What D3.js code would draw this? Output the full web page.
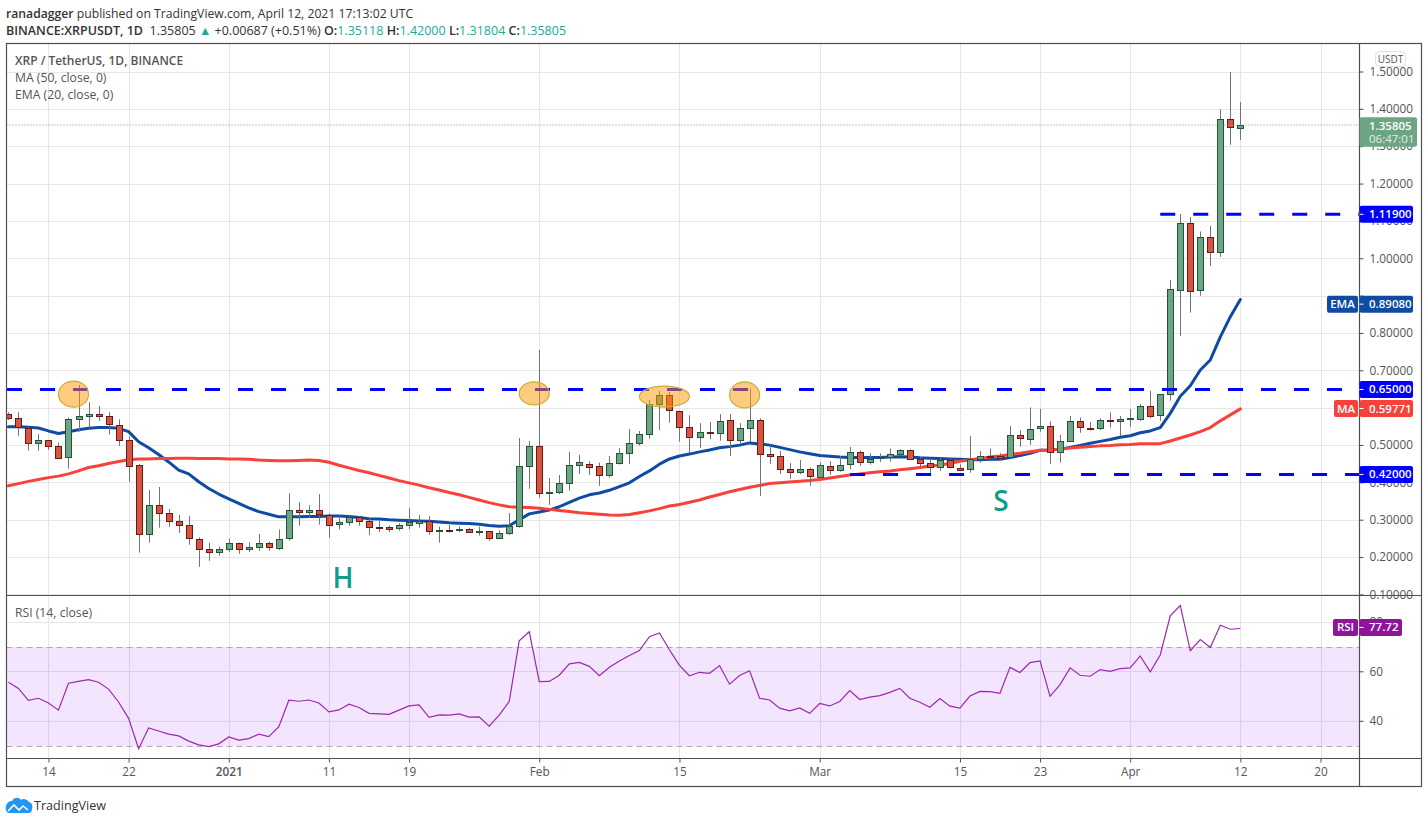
<!DOCTYPE html>
<html><head><meta charset="utf-8">
<script src="https://cdn.jsdelivr.net/npm/d3@7"></script>
<style>
html,body{margin:0;padding:0;background:#fff}
svg{display:block}
text{font-family:"Open Sans",sans-serif}
</style></head><body>
<svg id="c" width="1428" height="823"></svg>
<script>
// one candle per day, first candle = 2020-12-10
const startDate = "2020-12-10";
const opens = [.583,.573,.548,.507,.514,.498,.468,.570,.577,.583,.578,.556,.516,.447,.262,.340,.318,.297,.286,.249,.222,.214,.222,.238,.221,.227,.238,.227,.251,.326,.320,.326,.315,.289,.294,.308,.297,.281,.282,.277,.286,.293,.297,.269,.273,.272,.276,.269,.270,.251,.265,.284,.444,.498,.372,.375,.399,.447,.451,.444,.420,.452,.479,.506,.530,.610,.634,.593,.550,.522,.535,.532,.567,.514,.546,.567,.476,.471,.436,.428,.436,.416,.446,.436,.449,.482,.455,.466,.468,.476,.487,.463,.452,.441,.460,.441,.436,.463,.471,.471,.468,.527,.518,.545,.551,.482,.511,.565,.548,.545,.567,.564,.570,.573,.607,.580,.636,.918,1.097,.915,1.057,1.016,1.373,1.351];
const closes = [.572,.550,.508,.514,.498,.467,.570,.578,.583,.577,.556,.516,.447,.262,.340,.318,.296,.286,.251,.222,.214,.222,.238,.222,.227,.238,.227,.251,.326,.320,.326,.315,.289,.294,.308,.297,.281,.280,.277,.286,.294,.298,.270,.273,.272,.276,.269,.271,.251,.265,.284,.444,.498,.372,.375,.399,.447,.455,.443,.420,.452,.479,.506,.530,.610,.634,.593,.550,.522,.535,.532,.565,.514,.546,.567,.476,.470,.436,.428,.436,.416,.447,.436,.449,.482,.455,.463,.468,.476,.487,.463,.452,.441,.460,.441,.436,.463,.471,.470,.465,.527,.518,.545,.551,.482,.511,.565,.548,.545,.567,.564,.570,.573,.607,.580,.637,.918,1.097,.915,1.057,1.016,1.373,1.351,1.358];
const highs = [.589,.589,.550,.531,.514,.508,.575,.662,.616,.606,.589,.570,.525,.450,.381,.389,.330,.314,.311,.254,.240,.230,.251,.240,.241,.263,.243,.275,.372,.348,.340,.370,.318,.312,.312,.311,.305,.298,.286,.292,.333,.314,.311,.283,.287,.283,.280,.283,.272,.273,.319,.520,.512,.756,.413,.421,.483,.475,.458,.454,.472,.493,.544,.539,.622,.646,.643,.593,.581,.560,.563,.584,.584,.560,.653,.573,.501,.485,.453,.461,.441,.455,.458,.472,.496,.487,.479,.479,.492,.490,.490,.468,.465,.467,.465,.450,.525,.485,.492,.479,.552,.541,.602,.598,.565,.528,.579,.575,.563,.573,.589,.579,.598,.611,.646,.637,.943,1.120,1.111,1.073,1.088,1.400,1.500,1.420];
const lows = [.568,.526,.486,.486,.488,.464,.438,.537,.548,.566,.529,.499,.403,.213,.240,.280,.282,.266,.234,.175,.191,.205,.215,.210,.215,.218,.218,.220,.245,.285,.306,.288,.253,.276,.285,.285,.260,.268,.268,.272,.276,.280,.261,.240,.267,.268,.267,.259,.245,.249,.261,.280,.384,.360,.341,.370,.379,.424,.421,.392,.414,.449,.450,.500,.518,.541,.561,.510,.479,.493,.517,.513,.472,.506,.509,.365,.450,.424,.411,.423,.392,.415,.422,.430,.436,.446,.449,.456,.457,.473,.463,.441,.425,.432,.439,.433,.427,.454,.468,.459,.465,.497,.502,.537,.451,.454,.510,.534,.540,.541,.548,.525,.550,.566,.574,.566,.620,.793,.856,.901,.981,1.005,1.305,1.318];
const emaValues = [.550,.550,.549,.547,.539,.532,.537,.542,.546,.548,.548,.546,.537,.510,.494,.476,.456,.434,.424,.403,.385,.370,.357,.345,.333,.323,.316,.309,.309,.309,.310,.310,.311,.311,.310,.307,.304,.303,.301,.300,.299,.298,.297,.295,.293,.292,.291,.289,.286,.284,.285,.301,.317,.322,.327,.336,.348,.359,.368,.373,.380,.390,.400,.417,.432,.450,.464,.472,.477,.483,.488,.494,.497,.501,.507,.504,.501,.495,.489,.483,.478,.473,.471,.469,.468,.468,.468,.468,.469,.470,.469,.467,.466,.465,.464,.463,.462,.462,.463,.463,.468,.473,.479,.487,.488,.490,.495,.500,.506,.511,.516,.522,.526,.534,.539,.548,.586,.632,.660,.702,.729,.791,.845,.891];
const maValues = [.392,.398,.404,.409,.414,.418,.424,.432,.441,.446,.452,.457,.462,.464,.464,.465,.465,.466,.466,.465,.465,.465,.464,.464,.463,.461,.460,.459,.459,.460,.461,.460,.455,.447,.440,.433,.427,.420,.413,.406,.400,.394,.387,.381,.374,.368,.361,.354,.347,.341,.336,.335,.334,.332,.329,.326,.323,.320,.318,.316,.314,.313,.315,.320,.325,.331,.338,.342,.348,.354,.362,.369,.376,.382,.388,.393,.398,.400,.402,.404,.406,.409,.413,.417,.421,.424,.427,.430,.432,.435,.438,.441,.445,.448,.452,.458,.462,.465,.469,.472,.476,.479,.483,.487,.488,.490,.493,.495,.497,.499,.500,.502,.503,.505,.505,.505,.512,.520,.528,.537,.548,.566,.582,.598];
const rsiValues = [55.8,53.3,48.5,49.3,47.4,44.5,55.4,56.1,56.8,55.8,53,47.8,41.2,28.9,37.3,36.1,34.8,34.1,32,30.5,29.8,30.9,33.7,32.4,33,34.8,33.8,37.8,48.5,48.1,48.6,47.4,43.8,44.6,46.9,45.6,43.2,43,42.8,44.5,46.2,46.6,41.6,42.6,42.5,43,41.7,41.8,38,42.5,48,72.5,76.2,56,56.1,58.6,63.2,63.8,62.2,58.4,61.8,64.4,66.6,68.6,74.2,75.7,68.9,62.6,58.4,59.8,59.4,62.5,55,58.5,60.4,49.3,48.6,45.3,44.2,45.4,43.2,47.2,46.2,48,52.4,48.8,49.8,50.4,51.7,53.3,49.3,47.7,45.7,49.2,46.1,45.3,50.2,52.1,52,51.3,61.8,59.7,63.7,64.4,50.1,54.8,61.6,58.6,58.2,60.9,60.2,61.3,61.6,66.4,60,66.8,82.6,86.8,68.5,73,69.8,78.8,77.2,77.5];
const priceTicks = [1.5,1.4,1.3,1.2,1.1,1.0,0.9,0.8,0.7,0.6,0.5,0.4,0.3,0.2,0.1];
const hiddenPriceTicks = [0.9,0.6];
const rsiTicks = [80,60,40];
const rsiBand = [30,70];
const timeTickDays = [4,12,22,32,40,53,67,81,95,103,112,123,131];
const timeTickLabels = ["14","22","2021","11","19","Feb","15","Mar","15","23","Apr","12","20"];
const levelValues = [0.65,0.4225,1.119];
const levelLabels = ["0.65000","0.42000","1.11900"];
const levelStartDay = [0,84.03,115.0];
const ellipseCenterDay = [6.5,52.5,65.5,73.5];
const ellipseCenterPrice = [.6375,.6395,.631,.6355];
const ellipseDayRadius = [1.5,1.5,2.5,1.5];
const ellipsePriceRadius = [.035,.031,.028,.035];
const patternLabels = ["H","S"];
const patternDay = [33.4,99.1];
const patternPrice = [.118,.325];
const lastPrice = 1.35805;
const lastEma = 0.89080, lastMa = 0.59771, lastRsi = 77.72;

const L=6.5,R=1359.5,FR=1421.5,T=43.5,PB=595.5,RB=758.5,B=786.5;
const svg=d3.select("#c");
const x=d3.scaleLinear().domain([0,131]).range([8.4,1320.5]);
const y=d3.scaleLinear().domain([1.5,0.1]).range([72,594.9]);
const yR=d3.scaleLinear().domain([80,40]).range([622.3,721.3]);
const defs=svg.append("defs");
defs.append("clipPath").attr("id","pp").append("rect").attr("x",L).attr("y",T).attr("width",R-L).attr("height",PB-T);
defs.append("clipPath").attr("id","rp").append("rect").attr("x",L).attr("y",PB).attr("width",R-L).attr("height",RB-PB);
const GRID="#e6e6e6",AX="#4f4f4f",TXT="#555";

// grid
const grid=svg.append("g").attr("fill","none").attr("stroke",GRID).attr("stroke-width",1);
timeTickDays.forEach(d=>{const X=Math.round(x(d))+.5;grid.append("line").attr("x1",X).attr("x2",X).attr("y1",T).attr("y2",RB);});
priceTicks.forEach(v=>{const Y=Math.floor(y(v))+.5;grid.append("line").attr("x1",L).attr("x2",R).attr("y1",Y).attr("y2",Y);});

// RSI band
svg.append("rect").attr("x",L).attr("width",R-L).attr("y",yR(rsiBand[1])).attr("height",yR(rsiBand[0])-yR(rsiBand[1])).attr("fill","#9800ff").attr("fill-opacity",.1);
rsiTicks.forEach(v=>{const Y=Math.floor(yR(v))+.5;grid.append("line").attr("x1",L).attr("x2",R).attr("y1",Y).attr("y2",Y);});
svg.selectAll(".bandl").data(rsiBand).join("line").attr("x1",L).attr("x2",R).attr("y1",d=>Math.floor(yR(d))+.5).attr("y2",d=>Math.floor(yR(d))+.5).attr("stroke","#b9a3bf").attr("stroke-dasharray","6 4");
const days=d3.range(opens.length);
svg.append("path").attr("clip-path","url(#rp)").attr("fill","none").attr("stroke","#9c27b0").attr("stroke-width",1.2)
  .attr("d",d3.line().x(i=>x(i)).y(i=>yR(rsiValues[i]))(days));

// moving averages under the candles
const priceG=svg.append("g").attr("clip-path","url(#pp)");
const lineFor=a=>d3.line().x(i=>x(i)).y(i=>y(a[i]))(days);
priceG.append("path").attr("d",lineFor(emaValues)).attr("fill","none").attr("stroke","#0f4aa3").attr("stroke-width",3).attr("stroke-linejoin","round").attr("stroke-linecap","round");
priceG.append("path").attr("d",lineFor(maValues)).attr("fill","none").attr("stroke","#f8413a").attr("stroke-width",3).attr("stroke-linejoin","round").attr("stroke-linecap","round");

// last price dotted
svg.append("line").attr("x1",L).attr("x2",R).attr("y1",y(lastPrice)).attr("y2",y(lastPrice)).attr("stroke","#6ba583").attr("stroke-dasharray","1 2");

// candles
const cg=priceG.selectAll(".cd").data(days).join("g");
cg.append("line").attr("x1",i=>Math.round(x(i))+.5).attr("x2",i=>Math.round(x(i))+.5)
  .attr("y1",i=>y(highs[i])).attr("y2",i=>y(lows[i])).attr("stroke","#737375").attr("stroke-width",1);
cg.append("rect").attr("x",i=>Math.round(x(i))-2.5).attr("width",6)
  .attr("y",i=>Math.round(y(Math.max(opens[i],closes[i])))+.5)
  .attr("height",i=>Math.max(1,Math.round(Math.abs(y(opens[i])-y(closes[i])))))
  .attr("fill",i=>closes[i]>=opens[i]?"#6ba583":"#d75442")
  .attr("stroke",i=>closes[i]>=opens[i]?"#225437":"#6b1a11").attr("stroke-width",1);

// horizontal levels
levelValues.forEach((v,k)=>{
  const x0=x(levelStartDay[k]);
  svg.append("line").attr("x1",k==0?7:x0).attr("x2",R).attr("y1",y(v)).attr("y2",y(v))
    .attr("stroke","#0000ff").attr("stroke-width",3).attr("stroke-dasharray","15 18");
});

// highlighted spots
svg.selectAll(".el").data(ellipseCenterDay).join("ellipse")
  .attr("cx",d=>x(d)).attr("cy",(d,i)=>y(ellipseCenterPrice[i]))
  .attr("rx",(d,i)=>x(ellipseDayRadius[i])-x(0)).attr("ry",(d,i)=>y(0)-y(ellipsePriceRadius[i]))
  .attr("fill","#ff9800").attr("fill-opacity",.5).attr("stroke","#c9ad3c").attr("stroke-width",1.2);

// H / S
svg.selectAll(".pt").data(patternLabels).join("text").text(d=>d)
  .attr("x",(d,i)=>x(patternDay[i])).attr("y",(d,i)=>y(patternPrice[i])).attr("text-anchor","middle")
  .attr("font-size",28).attr("fill","#0e9c8d").attr("font-weight",600);

// axes
const yAxis=d3.axisRight(y).tickValues(priceTicks).tickSize(4).tickPadding(6).offset(0).tickFormat(d3.format(".5f"));
const ya=svg.append("g").attr("transform",`translate(${R},0)`).call(yAxis);
ya.selectAll(".tick text").filter(d=>hiddenPriceTicks.includes(d)).remove();
const rAxis=d3.axisRight(yR).tickValues(rsiTicks).tickSize(4).tickPadding(6).offset(0).tickFormat(d3.format("d"));
const ra=svg.append("g").attr("transform",`translate(${R},0)`).call(rAxis);
const xAxis=d3.axisBottom(x).tickValues(timeTickDays).tickSize(4).tickPadding(5).tickFormat((d,i)=>timeTickLabels[i]);
const xa=svg.append("g").attr("transform",`translate(0,${RB})`).call(xAxis);
[ya,ra,xa].forEach(g=>{g.select(".domain").remove();g.selectAll("line").attr("stroke",AX);g.selectAll("text").attr("fill",TXT).attr("font-size",11.8).attr("font-family",'"Open Sans",sans-serif');});
xa.selectAll("text").filter((d,i)=>timeTickLabels[i]=="2021").attr("font-weight",600);

// frame
const frame=svg.append("g").attr("stroke",AX).attr("fill","none").attr("stroke-width",1.2);
frame.append("rect").attr("x",L).attr("y",T).attr("width",FR-L).attr("height",B-T);
frame.append("line").attr("x1",R).attr("x2",R).attr("y1",T).attr("y2",B);
frame.append("line").attr("x1",L).attr("x2",FR).attr("y1",PB).attr("y2",PB);
frame.append("line").attr("x1",L).attr("x2",FR).attr("y1",RB).attr("y2",RB);

// USDT box
svg.append("rect").attr("x",1375.5).attr("y",51.5).attr("width",30).attr("height",15).attr("rx",4).attr("fill","#fff").attr("stroke","#dfdfdf");
svg.append("text").text("USDT").attr("x",1390.5).attr("y",63).attr("text-anchor","middle").attr("font-size",10).attr("fill",TXT);

// value tags
function tag(Y,col,txt,tw,lab,lw){
  svg.append("rect").attr("x",R).attr("y",Y-8.5).attr("width",tw).attr("height",17).attr("rx",2).attr("fill",col);
  svg.append("line").attr("x1",R).attr("x2",R+4).attr("y1",Y).attr("y2",Y).attr("stroke","#fff");
  svg.append("text").text(txt).attr("x",R+9.5).attr("y",Y+4).attr("font-size",11.5).attr("font-weight",600).attr("fill","#fff");
  if(lab){
    svg.append("rect").attr("x",R-1.5-lw).attr("y",Y-8.5).attr("width",lw).attr("height",17).attr("rx",2).attr("fill",col);
    svg.append("text").text(lab).attr("x",R-1.5-lw/2).attr("y",Y+4).attr("text-anchor","middle").attr("font-size",11.5).attr("font-weight",600).attr("fill","#fff");
  }
}
levelValues.forEach((v,k)=>tag(y(v),"#0000ff",levelLabels[k],53.5));
tag(y(lastEma)+4.6,"#0f4aa3",d3.format(".5f")(lastEma),53.5,"EMA",31);
tag(y(lastMa)-.5,"#f8413a",d3.format(".5f")(lastMa),53.5,"MA",24);
tag(yR(lastRsi)-.5,"#8e1599",d3.format(".2f")(lastRsi),42.5,"RSI",25);
// last price tag
svg.append("rect").attr("x",R).attr("y",117.3).attr("width",57.5).attr("height",29.5).attr("rx",2).attr("fill","#6ba583");
svg.append("text").text(d3.format(".5f")(lastPrice)).attr("x",R+9.5).attr("y",130).attr("font-size",11.5).attr("font-weight",600).attr("fill","#fff");
svg.append("text").text("06:47:01").attr("x",R+9.5).attr("y",143).attr("font-size",11.5).attr("fill","#e3efe8");

// pane legends
const leg=(t,yy,w,fs)=>svg.append("text").text(t).attr("x",15).attr("y",yy).attr("font-size",fs||12.2).attr("fill",TXT).attr("font-weight",w||400);
leg("XRP / TetherUS, 1D, BINANCE",65,600,12);
leg("MA (50, close, 0)",82);
leg("EMA (20, close, 0)",99);
leg("RSI (14, close)",617);

// header
const h1=svg.append("text").attr("x",6).attr("y",17.5).attr("font-size",12.2).attr("fill","#333");
h1.append("tspan").text("ranadagger").attr("font-weight",600);
h1.append("tspan").text(" published on TradingView.com, April 12, 2021 17:13:02 UTC");
const h2=svg.append("text").attr("x",6).attr("y",34.5).attr("font-size",12.5).attr("fill","#333");
const TEAL="#26a69a";
[["BINANCE:XRPUSDT, 1D",600],["  1.35805 ",400],["▲",400,"#26a69a"],[" +0.00687 (+0.51%) ",400],["O:",600],["1.35118 ",400,TEAL],["H:",600],["1.42000 ",400,TEAL],["L:",600],["1.31804 ",400,TEAL],["C:",600],["1.35805",400,TEAL]]
 .forEach(s=>{const t=h2.append("tspan").text(s[0]).attr("font-weight",s[1]).attr("xml:space","preserve");if(s[2])t.attr("fill",s[2]);});

// logo
const lg=svg.append("g").attr("transform","translate(6,797)");
lg.append("path").attr("d","M0 9 C1 5 4 4 6 4 C8 0 13 0 15 3 C17 1 21 2 23 5 C26 6 27 9 26 12 C26 15 24 16 22 16 L3 16 C0 16 -1 11 0 9Z").attr("fill","#2196f3");
lg.append("path").attr("d","M2 14 L8 8 L13 13 L17 9 L22 13").attr("fill","none").attr("stroke","#fff").attr("stroke-width",1.6);
svg.append("text").text("TradingView").attr("x",34).attr("y",810).attr("font-size",12.6).attr("fill","#333");
</script>
</body></html>
